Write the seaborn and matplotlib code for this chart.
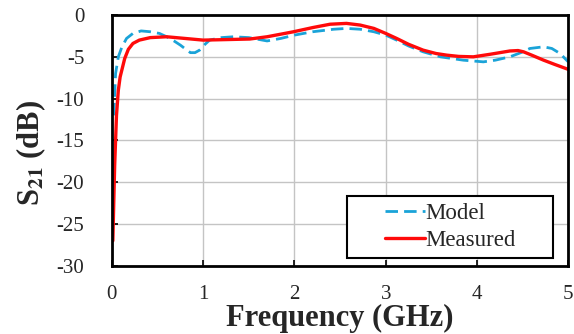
import pandas as pd
import seaborn as sns
import matplotlib.pyplot as plt
from matplotlib.patches import Rectangle

# values (GHz, dB)
model_freq = [0.02, 0.04, 0.07, 0.11, 0.16, 0.23, 0.32, 0.42, 0.52, 0.6, 0.68, 0.75, 0.81, 0.86, 0.91, 0.96,
              1.02, 1.07, 1.2, 1.33, 1.5, 1.6, 1.7, 1.85, 2.0, 2.2, 2.43, 2.57, 2.72, 2.87, 3.0, 3.12,
              3.25, 3.41, 3.6, 3.85, 4.07, 4.2, 4.36, 4.48, 4.58, 4.73, 4.82, 4.91, 5.0]
model_db = [-12.0, -7.0, -5.0, -3.8, -2.8, -2.2, -1.9, -2.0, -2.2, -2.6, -3.1, -3.6, -4.1, -4.5, -4.5, -4.2,
            -3.5, -3.0, -2.7, -2.6, -2.7, -2.9, -3.1, -2.8, -2.4, -2.0, -1.7, -1.6, -1.7, -2.0, -2.4, -3.0,
            -3.7, -4.4, -5.0, -5.4, -5.6, -5.4, -5.0, -4.5, -4.0, -3.8, -4.0, -4.6, -5.6]

meas_freq = [0.01, 0.03, 0.05, 0.07, 0.09, 0.14, 0.18, 0.23, 0.3, 0.42, 0.6, 0.8, 1.0, 1.2, 1.51, 1.7,
             1.99, 2.2, 2.39, 2.57, 2.72, 2.87, 3.0, 3.12, 3.25, 3.41, 3.55, 3.67, 3.8, 3.96, 4.14, 4.25,
             4.36, 4.45, 4.51, 4.6, 4.73, 4.85, 5.0]
meas_db = [-27.0, -18.0, -12.0, -9.0, -7.4, -5.2, -4.1, -3.4, -3.0, -2.7, -2.6, -2.8, -3.0, -2.95, -2.87, -2.6,
           -2.0, -1.5, -1.1, -1.0, -1.2, -1.6, -2.2, -2.8, -3.5, -4.2, -4.6, -4.8, -4.95, -5.0, -4.7, -4.5,
           -4.3, -4.25, -4.4, -4.8, -5.4, -5.9, -6.5]

model = pd.DataFrame({"freq": model_freq, "s21": model_db})
meas = pd.DataFrame({"freq": meas_freq, "s21": meas_db})

sns.set_style("whitegrid")
plt.rcParams["font.family"] = ["Liberation Serif", "DejaVu Serif"]
plt.rcParams["mathtext.fontset"] = "stix"
plt.rcParams["axes.unicode_minus"] = False

fig = plt.figure(figsize=(5.74, 3.34), dpi=100)
ax = fig.add_axes([0.195, 0.204, 0.795, 0.751])

sns.lineplot(data=model, x="freq", y="s21", ax=ax, color="#1AA3D8", lw=2.0, label="Model")
ax.lines[-1].set_dashes([4.5, 2.2])
sns.lineplot(data=meas, x="freq", y="s21", ax=ax, color="#FF0A0A", lw=2.4, label="Measured")

ax.set_xlim(0, 5)
ax.set_ylim(-30, 0)
ax.set_xticks(range(0, 6))
ax.set_yticks(range(-30, 1, 5))
ax.grid(True, color="#c4c4c4", lw=1.0)
for sp in ax.spines.values():
    sp.set_color("black")
    sp.set_linewidth(2.0)
ax.tick_params(axis="both", direction="in", length=4, width=1.2, color="black",
               labelsize=15, bottom=True, left=True)
ax.tick_params(axis="x", pad=14)
ax.tick_params(axis="y", pad=20)

ax.set_xlabel("Frequency (GHz)", fontsize=22, fontweight="bold", labelpad=0)
ax.set_ylabel(r"S$_{\mathbf{21}}$ (dB)", fontsize=22, fontweight="bold")
ax.yaxis.set_label_coords(-0.14, 0.45)

# legend frame drawn separately so the entries sit centred in a wide box
ax.add_patch(Rectangle((0.515, 0.032), 0.452, 0.247, transform=ax.transAxes,
                       facecolor="white", edgecolor="black", lw=1.5, zorder=4.5))
leg = ax.legend(loc="center", bbox_to_anchor=(0.741, 0.156), fontsize=16.5, frameon=False,
                handlelength=1.75, handletextpad=0.0, borderpad=0.0, labelspacing=0.25)
leg.set_zorder(5)

fig.savefig("out.png", dpi=100)
